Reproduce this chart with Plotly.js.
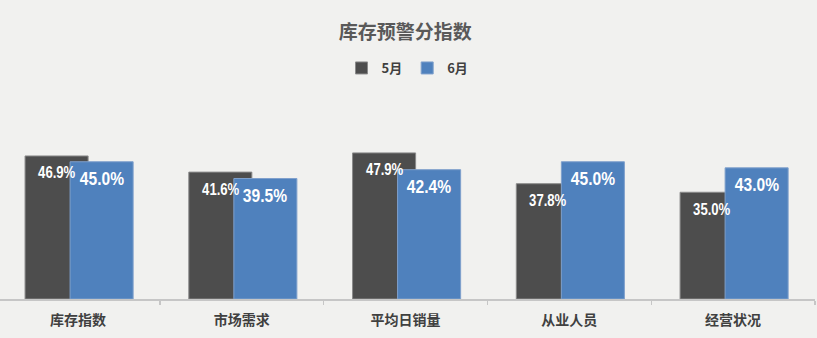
<!DOCTYPE html>
<html>
<head>
<meta charset="utf-8">
<script src="https://cdn.plot.ly/plotly-3.0.1.min.js"></script>
<style>html,body{margin:0;padding:0;background:#f1f1ef;}</style>
</head>
<body>
<div id="chart" style="width:817px;height:338px;"></div>
<script>
const categories = ['库存指数', '市场需求', '平均日销量', '从业人员', '经营状况'];
const seriesNames = ['5月', '6月'];
const may = [46.9, 41.6, 47.9, 37.8, 35.0];
const june = [45.0, 39.5, 42.4, 45.0, 43.0];

const BAR_W = 0.385;
const OFF_MAY = -0.324;
const OFF_JUN = -0.049;
const PX_PER_CAT = 163.7;
const LABEL_FONT = 'Liberation Sans, Arial, sans-serif';

const traces = [
  {
    type: 'bar', name: seriesNames[0], x: categories, y: may,
    width: BAR_W, offset: OFF_MAY,
    marker: {color: '#4d4d4d', line: {color: '#8a8a8a', width: 1}},
    hoverinfo: 'none'
  },
  {
    type: 'bar', name: seriesNames[1], x: categories, y: june,
    width: BAR_W, offset: OFF_JUN,
    marker: {color: '#4f81bd', line: {color: '#7fa0cc', width: 1}},
    hoverinfo: 'none'
  }
];

const annotations = [];
categories.forEach((c, i) => {
  annotations.push({
    x: c, y: may[i], xref: 'x', yref: 'y',
    text: may[i].toFixed(1) + '%', showarrow: false,
    xshift: (OFF_MAY + BAR_W / 2) * PX_PER_CAT, yshift: -17,
    font: {family: LABEL_FONT, size: 16, color: '#ffffff', weight: 'bold'}
  });
  annotations.push({
    x: c, y: june[i], xref: 'x', yref: 'y',
    text: june[i].toFixed(1) + '%', showarrow: false,
    xshift: (OFF_JUN + BAR_W / 2) * PX_PER_CAT, yshift: -17,
    font: {family: LABEL_FONT, size: 19, color: '#ffffff', weight: 'bold'}
  });
});

const layout = {
  width: 817, height: 338,
  paper_bgcolor: '#f1f1ef', plot_bgcolor: 'rgba(0,0,0,0)',
  margin: {l: 0, r: 2, t: 116, b: 39},
  barmode: 'overlay',
  title: {
    text: '库存预警分指数', x: 0.496, xanchor: 'center', y: 1 - 32 / 338, yanchor: 'middle', yref: 'container',
    font: {family: 'Noto Sans CJK SC, sans-serif', size: 19, color: '#595959', weight: 'bold'}
  },
  showlegend: true,
  legend: {
    orientation: 'h', x: 0.5, xanchor: 'center', y: (299 - 68) / 183, yanchor: 'middle',
    font: {family: 'Noto Sans CJK SC, sans-serif', size: 13, color: '#404040', weight: 'bold'},
    itemwidth: 30, bgcolor: 'rgba(0,0,0,0)', traceorder: 'normal'
  },
  xaxis: {
    type: 'category', range: [-0.477, 4.5],
    showline: true, linecolor: '#c6c6c6', linewidth: 1.5,
    ticks: 'outside', tickson: 'boundaries', ticklen: 4, tickcolor: '#c6c6c6', tickwidth: 1.5,
    ticklabelstandoff: 8,
    tickfont: {family: 'Noto Sans CJK SC, sans-serif', size: 14, color: '#404040', weight: 'bold'},
    showgrid: false, zeroline: false, fixedrange: true
  },
  yaxis: {
    range: [0, 60], visible: false, showgrid: false, zeroline: false, fixedrange: true
  },
  annotations: annotations
};

Plotly.newPlot('chart', traces, layout, {displayModeBar: false, staticPlot: true}).then(function (gd) {
  // condense the value labels horizontally (reference uses a condensed face)
  gd.querySelectorAll('.annotation-text').forEach(function (t) {
    const w = t.getComputedTextLength();
    t.setAttribute('textLength', (w * 0.82).toFixed(1));
    t.setAttribute('lengthAdjust', 'spacingAndGlyphs');
  });
});
</script>
</body>
</html>
